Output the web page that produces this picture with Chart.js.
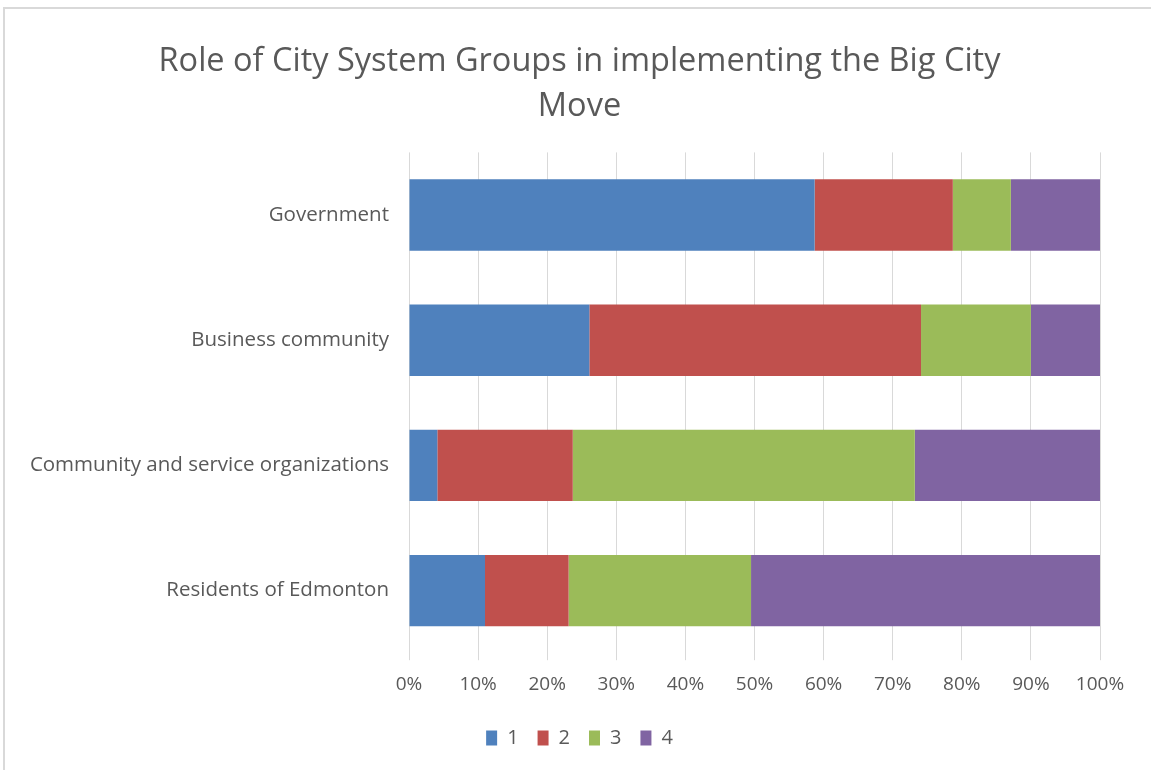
<!DOCTYPE html>
<html>
<head>
<meta charset="utf-8">
<script src="https://cdn.jsdelivr.net/npm/chart.js@4"></script>
<style>
  html, body { margin: 0; padding: 0; background: #fff; }
  #wrap { position: relative; width: 1151px; height: 770px; }
  #frame { position: absolute; left: 3px; top: 7px; right: 0; bottom: 0;
           border-left: 2px solid #d9d9d9; border-top: 2px solid #d9d9d9; }
  canvas { position: absolute; left: 0; top: 0; }
</style>
</head>
<body>
<div id="wrap">
  <div id="frame"></div>
  <canvas id="chart" width="1151" height="770"></canvas>
</div>
<script>
// Datos (porcentajes por grupo)
const categorias = ['Government', 'Business community', 'Community and service organizations', 'Residents of Edmonton'];
const serie1 = [58.7, 26.1, 4.1, 11.0];
const serie2 = [20.0, 48.0, 19.6, 12.1];
const serie3 = [8.4, 15.9, 49.5, 26.4];
const serie4 = [12.9, 10.0, 26.8, 50.5];
const nombresSerie = ['1', '2', '3', '4'];
const colores = ['#4F81BD', '#C0504D', '#9BBB59', '#8064A2'];
const tituloLineas = ['Role of City System Groups in implementing the Big City', 'Move'];

const textoGris = '#595959';
const fuente = "'Open Sans', 'Noto Sans', sans-serif";

// Centrar título y leyenda sobre todo el marco (no sobre el área con padding)
const centrarBloques = {
    id: 'centrarBloques',
    afterLayout(chart) {
        [chart.titleBlock, chart.legend].forEach(b => {
            if (!b) return;
            b.left = 8;
            b.right = 1151;
            b.width = b.right - b.left;
        });
    }
};

const ctx = document.getElementById('chart').getContext('2d');
new Chart(ctx, {
    type: 'bar',
    data: {
        labels: categorias,
        datasets: [serie1, serie2, serie3, serie4].map((d, i) => ({
            label: nombresSerie[i],
            data: d,
            backgroundColor: colores[i],
            borderWidth: 0,
            barPercentage: 0.57,
            categoryPercentage: 1.0
        }))
    },
    options: {
        indexAxis: 'y',
        responsive: false,
        animation: false,
        layout: { padding: { left: 8, right: 51, top: 0, bottom: 12 } },
        scales: {
            x: {
                stacked: true,
                min: 0,
                max: 100,
                ticks: {
                    stepSize: 10,
                    color: textoGris,
                    font: { family: fuente, size: 19 },
                    padding: 13,
                    callback: v => v + '%'
                },
                grid: { color: '#d9d9d9', lineWidth: 1, tickLength: 7, drawTicks: true },
                border: { display: false }
            },
            y: {
                stacked: true,
                ticks: {
                    color: textoGris,
                    font: { family: fuente, size: 20.5 },
                    padding: 20
                },
                grid: { display: false, drawTicks: false },
                border: { display: false },
                afterFit: scale => { scale.width = 401; }
            }
        },
        plugins: {
            title: {
                display: true,
                text: tituloLineas,
                color: textoGris,
                font: { family: fuente, size: 32.5, weight: 'normal', lineHeight: 1.36 },
                padding: { top: 40, bottom: 24 }
            },
            legend: {
                position: 'bottom',
                labels: {
                    color: textoGris,
                    font: { family: fuente, size: 20 },
                    boxWidth: 11,
                    boxHeight: 15,
                    padding: 19
                }
            },
            tooltip: { enabled: false }
        }
    },
    plugins: [centrarBloques]
});
</script>
</body>
</html>
